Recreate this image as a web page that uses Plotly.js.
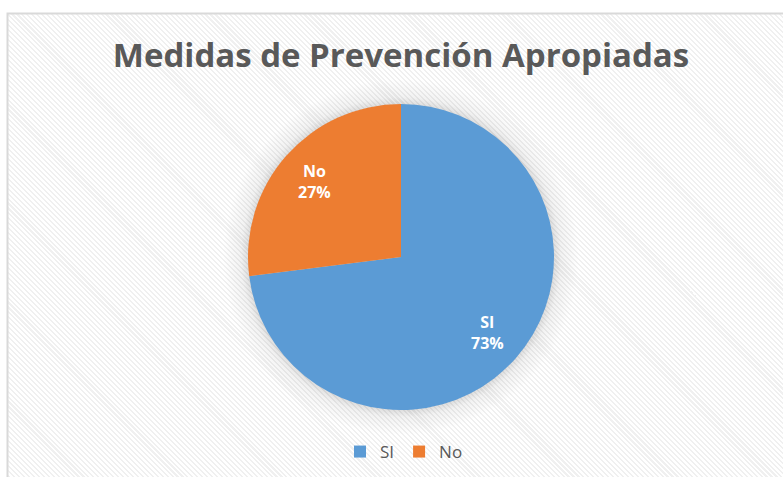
<!DOCTYPE html>
<html>
<head>
<meta charset="utf-8">
<script src="https://cdn.plot.ly/plotly-3.0.1.min.js"></script>
<style>
  html, body { margin: 0; padding: 0; background: #ffffff; }
  #wrap { position: relative; width: 783px; height: 477px; overflow: hidden; }
  #bg { position: absolute; left: 8px; top: 14px; width: 790px; height: 480px;
        background:
          radial-gradient(circle at 393px 243px, rgba(0,0,0,0.16) 150px, rgba(0,0,0,0.05) 160px, rgba(0,0,0,0) 178px),
          repeating-linear-gradient(45deg, #ffffff 0px, #ffffff 2px, #f0f0f0 2px, #f0f0f0 3.5px); }
  #chart { position: absolute; left: 0; top: 0; width: 783px; height: 477px; }
</style>
</head>
<body>
<div id="wrap">
  <div id="bg"></div>
  <div id="chart"></div>
</div>
<script>
const categories = ["SI", "No"];
const values = [73, 27];
const colors = ["#5B9BD5", "#ED7D31"];
const chartTitle = "Medidas de Prevención Apropiadas";

const W = 783, H = 477;
// pie geometry (pixels)
const pieLeft = 248, pieRight = 554, pieTop = 104, pieBottom = 410;
const cx = (pieLeft + pieRight) / 2, cy = (pieTop + pieBottom) / 2, R = (pieRight - pieLeft) / 2;

const data = [{
  type: "pie",
  labels: categories,
  values: values,
  marker: { colors: colors, line: { width: 0 } },
  sort: false,
  direction: "clockwise",
  rotation: 0,
  textinfo: "none",
  hoverinfo: "none",
  domain: { x: [pieLeft / W, pieRight / W], y: [(H - pieBottom) / H, (H - pieTop) / H] }
}];

// data labels at 0.75R along each slice's mid-angle (clockwise from 12 o'clock)
const total = values.reduce((a, b) => a + b, 0);
let cum = 0;
const annotations = categories.map((c, i) => {
  const mid = (cum + values[i] / 2) / total * 2 * Math.PI;
  cum += values[i];
  const px = cx + 0.75 * R * Math.sin(mid);
  const py = cy - 0.75 * R * Math.cos(mid);
  const pct = Math.round(values[i] / total * 100);
  return {
    xref: "paper", yref: "paper",
    x: px / W, y: (H - py) / H,
    xanchor: "center", yanchor: "middle",
    showarrow: false,
    text: "<b>" + c + "</b><br><b>" + pct + "%</b>",
    font: { family: "Open Sans, sans-serif", size: 16, color: "#ffffff" },
    align: "center"
  };
});

const layout = {
  width: W, height: H,
  margin: { l: 0, r: 0, t: 0, b: 0 },
  paper_bgcolor: "rgba(0,0,0,0)",
  plot_bgcolor: "rgba(0,0,0,0)",
  showlegend: true,
  title: {
    text: "<b>" + chartTitle + "</b>",
    font: { family: "Open Sans, sans-serif", size: 33, color: "#595959" },
    x: 401 / W, xanchor: "center",
    y: (H - 55) / H, yanchor: "middle"
  },
  legend: {
    orientation: "h",
    x: 404 / W, xanchor: "center",
    y: (H - 452) / H, yanchor: "middle",
    font: { family: "Open Sans, sans-serif", size: 17, color: "#595959" },
    bgcolor: "rgba(0,0,0,0)",
    itemwidth: 30
  },
  annotations: annotations,
  shapes: [{
    type: "rect", xref: "paper", yref: "paper",
    x0: 7.5 / W, x1: 1.02, y0: -0.02, y1: (H - 13.5) / H,
    line: { color: "#d9d9d9", width: 2 }, fillcolor: "rgba(0,0,0,0)"
  }]
};

Plotly.newPlot("chart", data, layout, { displayModeBar: false, staticPlot: true });
</script>
</body>
</html>
